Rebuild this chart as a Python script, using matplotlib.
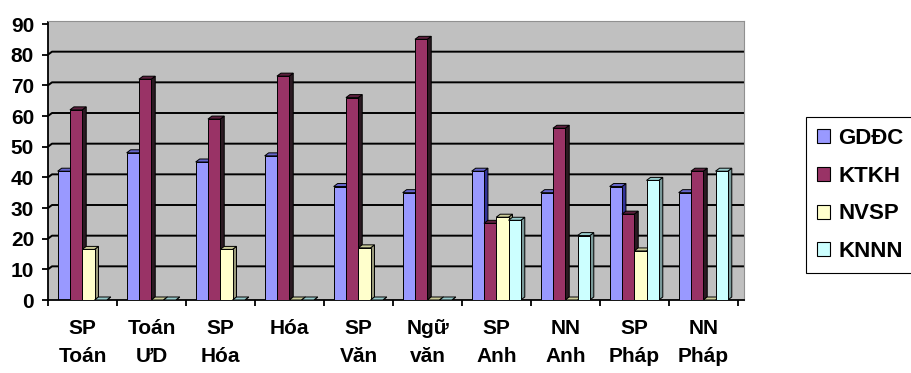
import numpy as np
import matplotlib
matplotlib.use("Agg")
import matplotlib.pyplot as plt
from matplotlib.patches import Polygon, Patch

# survey results per programme (percent)
categories = ["SP\nToán", "Toán\nƯD", "SP\nHóa", "Hóa", "SP\nVăn",
              "Ngữ\nvăn", "SP\nAnh", "NN\nAnh", "SP\nPháp", "NN\nPháp"]
series_names = ["GDĐC", "KTKH", "NVSP", "KNNN"]
gddc = [42, 48, 45, 47, 37, 35, 42, 35, 37, 35]
ktkh = [62, 72, 59, 73, 66, 85, 25, 56, 28, 42]
nvsp = [16.5, 0, 16.5, 0, 17, 0, 27, 0, 16, 0]
knnn = [0, 0, 0, 0, 0, 0, 26, 21, 39, 42]
y_ticks = list(range(0, 100, 10))

front_colors = ["#9999ff", "#993366", "#ffffcc", "#ccffff"]
side_colors = ["#333399", "#2b1a22", "#99997a", "#7a9999"]
top_colors = ["#6666cc", "#5c1f3d", "#cccc99", "#99cccc"]

plt.rcParams["font.family"] = ["Liberation Sans", "DejaVu Sans"]
plt.rcParams["font.weight"] = "bold"

fig = plt.figure(figsize=(9.12, 3.73), dpi=100)
W, H = 912, 373
ax = fig.add_axes([48 / W, 73 / H, 696 / W, 279 / H])

px_x = 1 / 69.0      # data units per pixel along x
px_y = 90 / 276.0    # data units per pixel along y
dx, dy = 4 * px_x, 3 * px_y

ax.set_xlim(0, 696 * px_x)
ax.set_ylim(0, 279 * px_y)
ax.set_facecolor("#c0c0c0")

# back wall grid lines, bent into the left wall
for v in y_ticks[1:-1]:
    ax.plot([0, dx, 696 * px_x], [v, v + dy, v + dy], color="black",
            lw=1.4, zorder=1, solid_capstyle="butt")

values = [gddc, ktkh, nvsp, knnn]
bw = 0.178
z = 2
for i in range(len(categories)):
    for k, vals in enumerate(values):
        h = vals[i]
        x0 = i + 0.14 + k * bw
        side = Polygon([(x0 + bw, 0), (x0 + bw + dx, dy), (x0 + bw + dx, h + dy),
                        (x0 + bw, h)], closed=True, fc=side_colors[k],
                       ec="black", lw=0.7, zorder=z)
        top = Polygon([(x0, h), (x0 + bw, h), (x0 + bw + dx, h + dy), (x0 + dx, h + dy)],
                      closed=True, fc=top_colors[k], ec="black", lw=0.7, zorder=z)
        ax.add_patch(side)
        ax.add_patch(top)
        ax.bar(x0, h, width=bw, align="edge", color=front_colors[k],
               edgecolor="black", lw=0.7, zorder=z + 0.5)
        z += 1

for s in ["top", "right"]:
    ax.spines[s].set_color("#909090")
    ax.spines[s].set_linewidth(0.8)
ax.spines["left"].set_bounds(0, 90.5)
ax.spines["left"].set_linewidth(1.3)
ax.spines["bottom"].set_linewidth(1.3)

ax.set_yticks(y_ticks)
ax.tick_params(axis="y", direction="out", length=4, width=1.3, labelsize=15, pad=6)
ax.set_xticks(np.arange(0, len(categories) + 1))
ax.set_xticklabels([])
ax.tick_params(axis="x", which="major", direction="out", length=4, width=1.3)
ax.set_xticks(np.arange(len(categories)) + 0.5, minor=True)
ax.set_xticklabels(categories, minor=True, fontsize=15, linespacing=1.6)
ax.tick_params(axis="x", which="minor", length=0, pad=14)

handles = [Patch(fc=c, ec="black", lw=0.8) for c in front_colors]
fig.legend(handles, series_names, loc="upper left",
           bbox_to_anchor=(806 / W, 1 - 117 / H), frameon=True, fancybox=False,
           edgecolor="black", framealpha=1, fontsize=16, handlelength=0.6,
           handleheight=0.6, handletextpad=0.35, labelspacing=0.75,
           borderpad=0.5, borderaxespad=0)
fig.legends[0].get_frame().set_linewidth(0.8)

fig.savefig("out.png", dpi=100)
